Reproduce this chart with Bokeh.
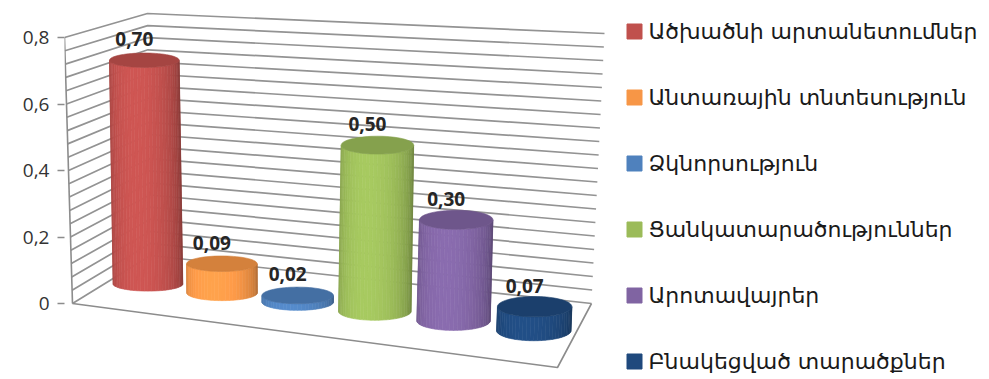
import numpy as np
from bokeh.plotting import figure
from bokeh.models import Range1d, FixedTicker, CustomJSTickFormatter
from bokeh.core.properties import value
from bokeh.embed import file_html
from bokeh.resources import INLINE

# ---------------- data ----------------
categories = [
    "Ածխածնի արտանետումներ",
    "Անտառային տնտեսություն",
    "Ձկնորսություն",
    "Ցանկատարածություններ",
    "Արոտավայրեր",
    "Բնակեցված տարածքներ",
]
values = [0.70, 0.09, 0.02, 0.50, 0.30, 0.07]
colors = ["#C0504D", "#F79646", "#4F81BD", "#9BBB59", "#8064A2", "#1F497D"]
y_ticks = [0.0, 0.2, 0.4, 0.6, 0.8]
tick_labels = ["0", "0,2", "0,4", "0,6", "0,8"]

# ---------------- layout / style ----------------
W, H = 989, 379
FRAME_LEFT = 64
Y0 = 303.0          # screen y of value 0 on the front-left edge
UNIT = 332.5        # screen px per value unit on the front-left edge
VMAX = 0.8
GRID_STEP = 0.04
WARP = 0.06         # slight perspective foreshortening along the category axis

# screen corners of the 3D box (bottom = value 0, top = VMAX)
FLb, FRb, BLb, BRb = map(np.array, [(72, 303), (557, 367), (150, 255), (591, 303)])
FLt, FRt, BLt, BRt = map(np.array, [(64, 37), (567, 87), (147, 13), (604, 33)])


def proj(u, w, v):
    """u: along categories (0..1), w: depth (0 front .. 1 back), v: value."""
    u = u - WARP * u * (1 - u)

    def bil(a, b, c, d):
        front = a + (b - a) * u
        back = c + (d - c) * u
        return front + (back - front) * w
    bot = bil(FLb, FRb, BLb, BRb)
    top = bil(FLt, FRt, BLt, BRt)
    return bot + (top - bot) * (v / VMAX)


def to_data(sx, sy):
    sx = np.asarray(sx, dtype=float)
    sy = np.asarray(sy, dtype=float)
    return list(sx), list((Y0 - sy) / UNIT)


def shade(hex_color, f):
    h = hex_color.lstrip("#")
    r, g, b = (int(h[i:i + 2], 16) for i in (0, 2, 4))
    r, g, b = (int(max(0, min(255, round(c * f)))) for c in (r, g, b))
    return "#%02x%02x%02x" % (r, g, b)


p = figure(
    width=W, height=H,
    x_range=Range1d(FRAME_LEFT, W),
    y_range=Range1d((Y0 - H) / UNIT, Y0 / UNIT),
    x_axis_location=None, y_axis_location="left",
    toolbar_location=None, output_backend="svg",
    min_border_left=FRAME_LEFT, min_border_right=0,
    min_border_top=0, min_border_bottom=0,
)
p.outline_line_color = None
p.grid.visible = False
p.background_fill_color = "white"
p.border_fill_color = "white"

yax = p.yaxis[0]
yax.ticker = FixedTicker(ticks=y_ticks)
yax.formatter = CustomJSTickFormatter(
    args=dict(tvals=y_ticks, tlabels=tick_labels),
    code="""
for (let i = 0; i < tvals.length; i++) {
  if (Math.abs(tick - tvals[i]) < 1e-9) return tlabels[i];
}
return "";
""")
yax.axis_line_color = None
yax.major_tick_out = 7
yax.major_tick_in = 0
yax.minor_tick_out = 0
yax.minor_tick_in = 0
yax.major_tick_line_color = "#8c8c8c"
yax.major_tick_line_width = 1.5
yax.major_label_standoff = 8
yax.major_label_text_font = "Open Sans"
yax.major_label_text_font_size = "19px"
yax.major_label_text_color = "#333333"

# ---------------- walls & gridlines ----------------
gx, gy = [], []
n_lines = int(round(VMAX / GRID_STEP))
for k in range(n_lines + 1):
    v = k * GRID_STEP
    pts = np.array([proj(0, 0, v), proj(0, 1, v), proj(1, 1, v)])
    dx, dy = to_data(pts[:, 0], pts[:, 1])
    gx.append(dx)
    gy.append(dy)
p.multi_line(gx, gy, line_color="#939393", line_width=1.7)

# front-left vertical edge and floor front / right edges
edges = [
    [proj(0, 0, 0), proj(0, 0, VMAX)],
    [proj(0, 0, 0), proj(1, 0, 0), proj(1, 1, 0)],
]
ex, ey = [], []
for e in edges:
    e = np.array(e)
    dx, dy = to_data(e[:, 0], e[:, 1])
    ex.append(dx)
    ey.append(dy)
p.multi_line(ex, ey, line_color="#8c8c8c", line_width=1.6)

# ---------------- cylinders ----------------
N = len(values)
NS = 30
slice_xs, slice_ys, slice_cols = [], [], []
top_xs, top_ys, top_cols = [], [], []
label_x, label_y, label_txt = [], [], []
for i, (val, col) in enumerate(zip(values, colors)):
    u = (i + 0.5) / N
    cb = proj(u, 0.5, 0.0)
    ct = proj(u, 0.5, val)
    unit_px = (cb[1] - proj(u, 0.5, VMAX)[1]) / VMAX
    rx = 0.109 * unit_px
    ry = rx * (0.20 + 0.08 * u)
    phis = np.linspace(np.pi, 0, NS + 1)
    for j in range(NS):
        a, b = phis[j], phis[j + 1]
        sx = [ct[0] + rx * np.cos(a), ct[0] + rx * np.cos(b),
              cb[0] + rx * np.cos(b), cb[0] + rx * np.cos(a)]
        sy = [ct[1] + ry * np.sin(a), ct[1] + ry * np.sin(b),
              cb[1] + ry * np.sin(b), cb[1] + ry * np.sin(a)]
        dx, dy = to_data(sx, sy)
        slice_xs.append(dx)
        slice_ys.append(dy)
        m = 0.5 * (a + b)
        f = 0.78 + 0.30 * np.cos(m - 0.58 * np.pi)
        slice_cols.append(shade(col, f))
    t = np.linspace(0, 2 * np.pi, 72)
    dx, dy = to_data(ct[0] + rx * np.cos(t), ct[1] + ry * np.sin(t))
    top_xs.append(dx)
    top_ys.append(dy)
    top_cols.append(shade(col, 0.86))
    lx, ly = to_data([ct[0]], [ct[1]])
    label_x.append(lx[0])
    label_y.append(ly[0])
    label_txt.append(f"{val:.2f}".replace(".", ","))

p.patches(slice_xs, slice_ys, fill_color=slice_cols, line_color=slice_cols, line_width=0.6)
p.patches(top_xs, top_ys, fill_color=top_cols, line_color=top_cols, line_width=0.6)

p.text(x=label_x, y=label_y, text=label_txt, x_offset=-10, y_offset=-21,
       text_align="center", text_baseline="middle",
       text_font=value("Open Sans"), text_font_style="bold",
       text_font_size="19px", text_color="#262626")

# ---------------- legend ----------------
leg_sy = [31 + 66 * i for i in range(len(categories))]
lx_sq, ly_sq = to_data([634] * len(categories), leg_sy)
p.scatter(x=lx_sq, y=ly_sq, marker="square", size=15, fill_color=colors, line_color=colors)
lx_t, ly_t = to_data([648] * len(categories), leg_sy)
p.text(x=lx_t, y=ly_t, text=categories, text_align="left", text_baseline="middle",
       text_font=value("DejaVu Sans"), text_font_size="22px", text_color="#1a1a1a")

open("out.html", "w").write(file_html(p, INLINE))
